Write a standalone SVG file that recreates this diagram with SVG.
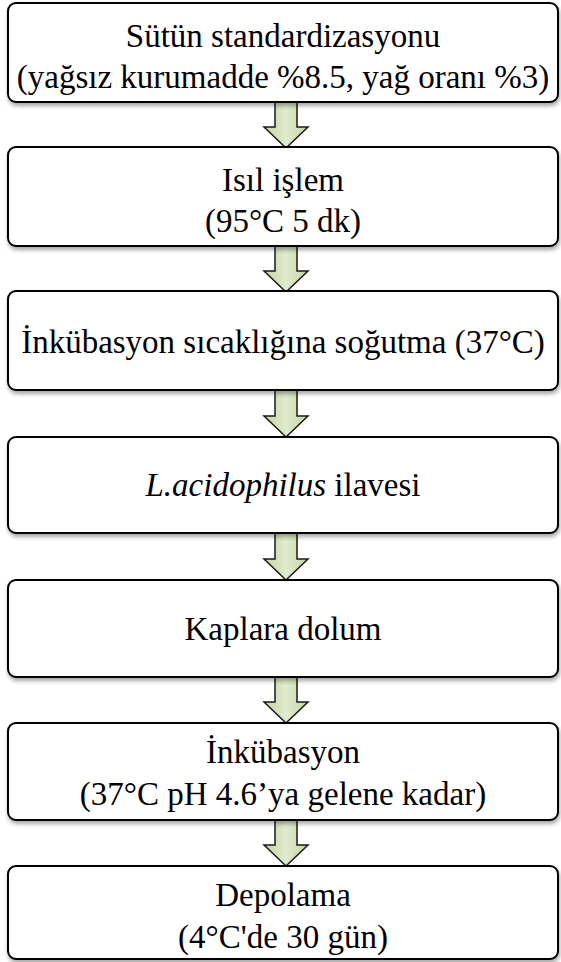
<svg xmlns="http://www.w3.org/2000/svg" width="561" height="962" viewBox="0 0 561 962">
<defs>
<filter id="sh" x="-5%" y="-10%" width="110%" height="130%">
<feGaussianBlur in="SourceAlpha" stdDeviation="2"/>
<feOffset dx="1" dy="3" result="b"/>
<feComponentTransfer><feFuncA type="linear" slope="0.35"/></feComponentTransfer>
<feMerge><feMergeNode/><feMergeNode in="SourceGraphic"/></feMerge>
</filter>
<linearGradient id="ag" x1="0" y1="0" x2="1" y2="0">
<stop offset="0" stop-color="#c2d49c"/>
<stop offset="0.5" stop-color="#e2ebcf"/>
<stop offset="1" stop-color="#c2d49c"/>
</linearGradient>
</defs>
<style>
.box{fill:#fff;stroke:#000;stroke-width:2;filter:url(#sh)}
.t{fill:#000;text-anchor:middle}
.ar{fill:url(#ag);stroke:#1a1a1a;stroke-width:1.5;stroke-linejoin:miter}
</style>
<rect width="561" height="962" fill="#fff"/>
<g id="connectors">
<path class="ar" d="M275,102 H297 V127 H308 L286,148 L264,127 H275 Z"/>
<path class="ar" d="M275,246 H297 V271 H308 L286,292 L264,271 H275 Z"/>
<path class="ar" d="M275,390 H297 V416 H308 L286,437 L264,416 H275 Z"/>
<path class="ar" d="M275,533 H297 V559 H308 L286,580 L264,559 H275 Z"/>
<path class="ar" d="M275,677 H297 V702 H308 L286,723 L264,702 H275 Z"/>
<path class="ar" d="M275,820 H297 V845 H308 L286,866 L264,845 H275 Z"/>
</g>
<g id="n1"><rect class="box" x="8" y="3" width="550" height="99" rx="8"/>
<text class="t" font-family="Liberation Serif" font-size="33" x="283" y="47">Sütün standardizasyonu</text>
<text class="t" font-family="Liberation Serif" font-size="33" x="283" y="88">(yağsız kurumadde %8.5, yağ oranı %3)</text></g>
<g id="n2"><rect class="box" x="8" y="147" width="550" height="99" rx="8"/>
<text class="t" font-family="Liberation Serif" font-size="33" x="283" y="191">Isıl işlem</text>
<text class="t" font-family="Liberation Serif" font-size="33" x="283" y="232">(95°C 5 dk)</text></g>
<g id="n3"><rect class="box" x="8" y="291" width="550" height="99" rx="8"/>
<text class="t" font-family="Liberation Serif" font-size="33" x="283" y="353">İnkübasyon sıcaklığına soğutma (37°C)</text></g>
<g id="n4"><rect class="box" x="8" y="437" width="550" height="96" rx="8"/>
<text class="t" font-family="Liberation Serif" font-size="33" x="283" y="496"><tspan font-style="italic">L.acidophilus</tspan> ilavesi</text></g>
<g id="n5"><rect class="box" x="8" y="580" width="550" height="97" rx="8"/>
<text class="t" font-family="Liberation Serif" font-size="33" x="283" y="640">Kaplara dolum</text></g>
<g id="n6"><rect class="box" x="8" y="723" width="550" height="97" rx="8"/>
<text class="t" font-family="Liberation Serif" font-size="33" x="283" y="763">İnkübasyon</text>
<text class="t" font-family="Liberation Serif" font-size="33" x="283" y="805">(37°C pH 4.6’ya gelene kadar)</text></g>
<g id="n7"><rect class="box" x="8" y="866" width="550" height="93" rx="8"/>
<text class="t" font-family="Liberation Serif" font-size="33" x="283" y="906">Depolama</text>
<text class="t" font-family="Liberation Serif" font-size="33" x="283" y="948">(4°C'de 30 gün)</text></g>
</svg>
